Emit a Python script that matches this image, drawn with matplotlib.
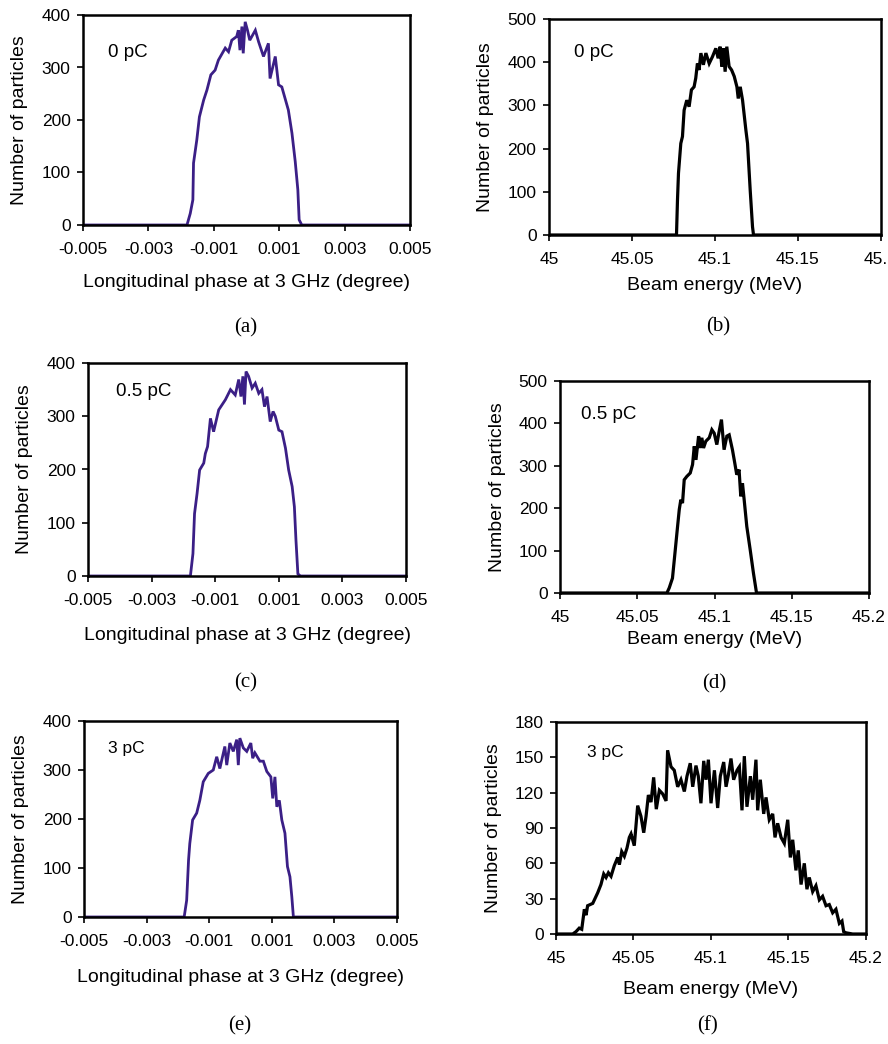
import matplotlib
matplotlib.use("Agg")
import matplotlib.pyplot as plt

plt.rcParams['font.family'] = ['Liberation Sans', 'DejaVu Sans']
plt.rcParams['axes.unicode_minus'] = False

# ---- data ----
# (a) 0 pC, longitudinal phase
phase_a = [-0.005, -0.00182, -0.00172, -0.00164, -0.00162, -0.00152, -0.00144, -0.00131,
           -0.00121, -0.00109, -0.00096, -0.00086, -0.00065, -0.00055, -0.00045, -0.0003,
           -0.00025, -0.0002, -0.00014, -0.0001, -0.00004, 0.00003, 0.0001, 0.00027,
           0.00037, 0.00052, 0.00067, 0.00072, 0.00088, 0.00098, 0.00108, 0.00118,
           0.00128, 0.00139, 0.00149, 0.00157, 0.00161, 0.00169, 0.005]
count_a = [0, 0, 22, 48, 118, 162, 206, 238, 257, 286, 295, 314, 337, 330, 352, 359,
           371, 333, 378, 327, 387, 371, 352, 371, 349, 321, 346, 279, 321, 267, 263,
           241, 219, 175, 121, 67, 10, 0, 0]

# (c) 0.5 pC, longitudinal phase
phase_c = [-0.005, -0.00178, -0.0017, -0.00165, -0.00157, -0.00149, -0.00136, -0.00131,
           -0.00124, -0.00115, -0.00105, -0.00089, -0.00068, -0.00052, -0.00037, -0.00026,
           -0.00019, -0.00013, -0.00008, -0.00003, 0.00005, 0.00016, 0.00026, 0.00037,
           0.00047, 0.00055, 0.00063, 0.00073, 0.00082, 0.00089, 0.001, 0.0011, 0.00121,
           0.00131, 0.00142, 0.00149, 0.00154, 0.0016, 0.00168, 0.005]
count_c = [0, 0, 42, 117, 155, 199, 212, 230, 243, 296, 271, 312, 331, 350, 340, 369,
           337, 375, 322, 384, 375, 353, 362, 343, 350, 318, 337, 290, 309, 300, 274,
           271, 240, 199, 168, 130, 67, 4, 0, 0]

# (e) 3 pC, longitudinal phase
phase_e = [-0.005, -0.0018, -0.00172, -0.00166, -0.00162, -0.00153, -0.0014, -0.0013,
           -0.00119, -0.00103, -0.00087, -0.00076, -0.00066, -0.0006, -0.0005, -0.00044,
           -0.00034, -0.00023, -0.00012, -0.00007, -0.00002, 0.00009, 0.0002, 0.00033,
           0.00039, 0.00046, 0.00062, 0.00073, 0.00084, 0.00097, 0.00103, 0.0011,
           0.00116, 0.00124, 0.00132, 0.00142, 0.0015, 0.00158, 0.00164, 0.00169, 0.005]
count_e = [0, 0, 34, 116, 150, 198, 212, 238, 276, 293, 300, 327, 303, 320, 348, 310,
           355, 338, 362, 310, 365, 345, 338, 355, 324, 335, 318, 318, 297, 286, 242,
           286, 225, 238, 198, 171, 103, 82, 41, 0, 0]

# (b) 0 pC, beam energy
energy_b = [45.0, 45.0768, 45.0774, 45.078, 45.0794, 45.0804, 45.0814, 45.083, 45.0844,
            45.0858, 45.0874, 45.0884, 45.0894, 45.0904, 45.0915, 45.093, 45.0945,
            45.0965, 45.0985, 45.1005, 45.1019, 45.1031, 45.1041, 45.1051, 45.1061,
            45.1071, 45.1085, 45.11, 45.1116, 45.1132, 45.114, 45.1152, 45.1166,
            45.1186, 45.1196, 45.1212, 45.1226, 45.1232, 45.2]
count_b = [0, 0, 81, 143, 212, 228, 289, 312, 297, 336, 343, 363, 397, 382, 421, 394,
           421, 397, 413, 432, 409, 436, 390, 432, 378, 436, 390, 382, 367, 343, 316,
           343, 312, 243, 212, 104, 19, 0, 0]

# (d) 0.5 pC, beam energy
energy_d = [45.0, 45.0692, 45.0707, 45.0728, 45.0744, 45.0761, 45.0772, 45.0782, 45.0793,
            45.0804, 45.0821, 45.0843, 45.0858, 45.0869, 45.088, 45.0897, 45.0907,
            45.0918, 45.0929, 45.0944, 45.0966, 45.0983, 45.0998, 45.1015, 45.103,
            45.1045, 45.1062, 45.108, 45.1095, 45.1116, 45.1131, 45.1144, 45.1159,
            45.117, 45.1181, 45.1192, 45.1209, 45.1231, 45.1252, 45.1272, 45.2]
count_d = [0, 0, 12, 35, 94, 157, 197, 220, 212, 267, 275, 283, 303, 346, 314, 370, 342,
           366, 342, 358, 366, 385, 377, 350, 381, 409, 338, 370, 373, 338, 307, 279,
           291, 228, 259, 220, 157, 102, 47, 0, 0]

# (f) 3 pC, beam energy
energy_f = [45.0, 45.0108, 45.0129, 45.015, 45.0166, 45.0183, 45.0194, 45.0204, 45.0237,
            45.0269, 45.029, 45.0308, 45.0323, 45.0338, 45.0355, 45.0376, 45.0398,
            45.0409, 45.0424, 45.0441, 45.0458, 45.0473, 45.0484, 45.0505, 45.0527,
            45.0548, 45.0566, 45.0581, 45.0596, 45.0613, 45.063, 45.0647, 45.0667,
            45.0688, 45.071, 45.072, 45.0742, 45.0763, 45.0785, 45.0806, 45.0828,
            45.0845, 45.0866, 45.0882, 45.0903, 45.0918, 45.0935, 45.0953, 45.0968,
            45.0983, 45.1, 45.1022, 45.1043, 45.106, 45.1082, 45.1097, 45.1112, 45.1129,
            45.1146, 45.1168, 45.1183, 45.12, 45.1215, 45.1232, 45.1254, 45.1269,
            45.129, 45.1301, 45.1318, 45.134, 45.1355, 45.1376, 45.1398, 45.1413,
            45.143, 45.1452, 45.1473, 45.1495, 45.1512, 45.1527, 45.1548, 45.1563,
            45.1581, 45.1602, 45.1619, 45.1634, 45.1656, 45.1677, 45.1699, 45.172,
            45.1742, 45.1763, 45.1785, 45.1806, 45.1828, 45.1845, 45.1856, 45.1871,
            45.1914, 45.2]
count_f = [0, 0, 2, 5, 4, 21, 16, 24, 26, 35, 42, 51, 48, 52, 49, 58, 65, 59, 70, 66,
           73, 82, 85, 75, 109, 100, 86, 100, 118, 112, 133, 106, 122, 119, 113, 156,
           142, 139, 125, 131, 121, 134, 145, 125, 143, 134, 111, 147, 131, 148, 111,
           139, 107, 134, 146, 125, 135, 149, 131, 139, 142, 105, 151, 108, 134, 114,
           148, 105, 131, 102, 116, 97, 102, 82, 94, 82, 77, 97, 65, 80, 54, 71, 42,
           60, 38, 48, 36, 41, 29, 32, 24, 25, 18, 21, 9, 11, 2, 1, 0, 0]

phase_ticks = [-0.005, -0.003, -0.001, 0.001, 0.003, 0.005]
phase_labels = ['-0.005', '-0.003', '-0.001', '0.001', '0.003', '0.005']
energy_ticks = [45.0, 45.05, 45.1, 45.15, 45.2]
energy_labels = ['45', '45.05', '45.1', '45.15', '45.2']

W, H = 888, 1044
fig = plt.figure(figsize=(W / 100, H / 100), dpi=100)


def make_axes(left, top, right, bottom):
    return fig.add_axes([left / W, 1 - bottom / H, (right - left) / W, (bottom - top) / H])


purple = '#3b1f86'

panels = [
    # x, y, color, box(px), ylim, yticks, tag, tag pos, caption, caption pos, kind, xlabel offset(px)
    (phase_a, count_a, purple, (83, 15, 410, 225), 400, [0, 100, 200, 300, 400],
     '0 pC', (0.075, 0.82), '(a)', (246, 328), 'phase', 58),
    (energy_b, count_b, 'black', (549, 19, 881, 235), 500, [0, 100, 200, 300, 400, 500],
     '0 pC', (0.075, 0.847), '(b)', (718, 327), 'energy', 50),
    (phase_c, count_c, purple, (88, 363, 406, 576), 400, [0, 100, 200, 300, 400],
     '0.5 pC', (0.088, 0.864), '(c)', (246, 683), 'phase', 59),
    (energy_d, count_d, 'black', (560, 381, 869, 593), 500, [0, 100, 200, 300, 400, 500],
     '0.5 pC', (0.068, 0.84), '(d)', (714, 684), 'energy', 47),
    (phase_e, count_e, purple, (84, 721, 397, 917), 400, [0, 100, 200, 300, 400],
     '3 pC', (0.077, 0.862), '(e)', (240, 1026), 'phase', 60),
    (energy_f, count_f, 'black', (556, 722, 866, 934), 180, [0, 30, 60, 90, 120, 150, 180],
     '3 pC', (0.1, 0.854), '(f)', (707, 1026), 'energy', 56),
]

for x, y, col, box, ymax, yticks, tag, tagpos, cap, cappos, kind, xoff in panels:
    ax = make_axes(*box)
    w_px = box[2] - box[0]
    h_px = box[3] - box[1]
    lw = 2.0 if col == purple else 2.3
    ax.plot(x, y, color=col, lw=lw, solid_joinstyle='miter')
    if kind == 'phase':
        ax.set_xlim(-0.005, 0.005)
        ax.set_xticks(phase_ticks)
        ax.set_xticklabels(phase_labels)
        ax.set_xlabel('Longitudinal phase at 3 GHz (degree)', fontsize=14)
    else:
        ax.set_xlim(45.0, 45.2)
        ax.set_xticks(energy_ticks)
        ax.set_xticklabels(energy_labels)
        ax.set_xlabel('Beam energy (MeV)', fontsize=14)
    ax.xaxis.label.set_va('center')
    ax.xaxis.set_label_coords(0.5, -xoff / h_px)
    ax.set_ylim(0, ymax)
    ax.set_yticks(yticks)
    ax.set_ylabel('Number of particles', fontsize=14)
    ax.yaxis.label.set_va('center')
    ax.yaxis.set_label_coords(-63 / w_px, 0.5)
    for s in ax.spines.values():
        s.set_linewidth(1.8)
    ax.tick_params(axis='both', direction='out', length=4, width=1.2, labelsize=12.5, pad=5)
    ax.tick_params(axis='x', pad=8)
    ax.text(tagpos[0], tagpos[1], tag, transform=ax.transAxes,
            fontsize=13.5 if tag != '3 pC' else 12.5, va='center', ha='left')
    fig.text(cappos[0] / W, 1 - cappos[1] / H, cap, fontsize=15, family='Liberation Serif',
             ha='center', va='center')

fig.savefig('out.png', dpi=100)
